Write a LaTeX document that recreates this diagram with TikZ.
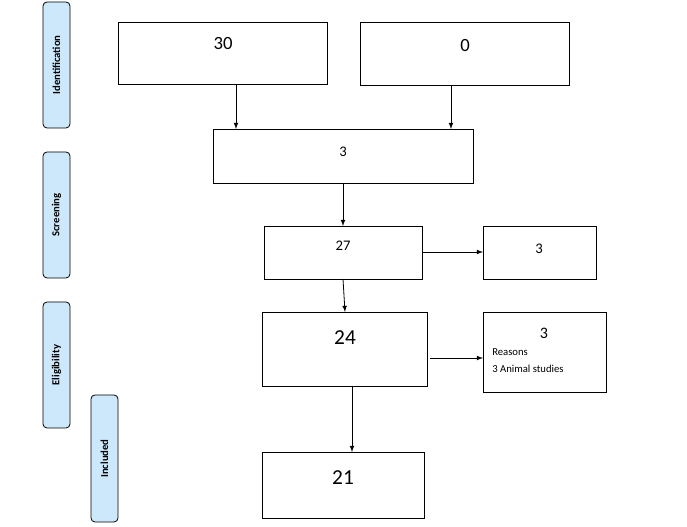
\documentclass[tikz,border=0pt]{standalone}
\usepackage{fontspec}
\setmainfont{Carlito}
\begin{document}
\begin{tikzpicture}[x=0.75pt,y=-0.75pt,
 box/.style={draw,line width=0.6pt},
 side/.style={draw,rounded corners=3pt,fill={rgb,255:red,204;green,232;blue,250},line width=0.6pt},
 sl/.style={rotate=90,font=\bfseries\fontsize{8}{9}\selectfont},
 arr/.style={-latex,line width=0.6pt},
 t/.style={inner sep=0pt}]
\useasboundingbox (0,0) rectangle (687,527);
\foreach \n/\ya/\yb/\xa/\lab in {i/2/128/43/Identification,s/152/278/43/Screening,e/302/428/43/Eligibility,n/395/522/91/Included}{
 \draw[side] (\xa,\ya) rectangle ++(27,\yb-\ya);
 \node[sl] (\n) at (\xa+13.5,{(\ya+\yb)/2}) {\lab};
}
\draw[box] (118,22) rectangle (327,84); \coordinate (A) at (236,84);
\node[t,font=\fontsize{14}{16}\selectfont] (ta) at (223,44) {30};
\draw[box] (360,22) rectangle (569,85); \coordinate (B) at (451,85);
\node[t,font=\fontsize{14}{16}\selectfont] (tb) at (465,46) {0};
\draw[box] (213,129) rectangle (473,183);
\coordinate (C1) at (236,129); \coordinate (C2) at (451,129); \coordinate (C3) at (343,183);
\node[t,font=\fontsize{11}{13}\selectfont] (tc) at (343,152) {3};
\draw[box] (264,226) rectangle (422,279);
\coordinate (D1) at (343,226); \coordinate (D2) at (343,279); \coordinate (D3) at (422,252);
\node[t,font=\fontsize{11}{13}\selectfont] (td) at (343,246) {27};
\draw[box] (483,226) rectangle (596,279); \coordinate (E) at (483,252);
\node[t,font=\fontsize{11}{13}\selectfont] (te) at (539,249) {3};
\draw[box] (262,312) rectangle (427,386);
\coordinate (F1) at (345,312); \coordinate (F2) at (430,358); \coordinate (F3) at (352,386);
\node[t,font=\fontsize{16}{18}\selectfont] (tf) at (345,338) {24};
\draw[box] (483,312) rectangle (606,392); \coordinate (G) at (483,358);
\node[t,font=\fontsize{12}{14}\selectfont] (tg) at (544,333) {3};
\node[t,anchor=west,font=\fontsize{8}{10}\selectfont] (tg2) at (492,352) {Reasons};
\node[t,anchor=west,font=\fontsize{8}{10}\selectfont] (tg3) at (492,369) {3 Animal studies};
\draw[box] (262,452) rectangle (424,518); \coordinate (H) at (352,452);
\node[t,font=\fontsize{16}{18}\selectfont] (th) at (343,478) {21};
\draw[arr] (A) -- (C1);
\draw[arr] (B) -- (C2);
\draw[arr] (C3) -- (D1);
\draw[arr] (D2) -- (F1);
\draw[arr] (D3) -- (E);
\draw[arr] (F2) -- (G);
\draw[arr] (F3) -- (H);
\end{tikzpicture}
\end{document}
